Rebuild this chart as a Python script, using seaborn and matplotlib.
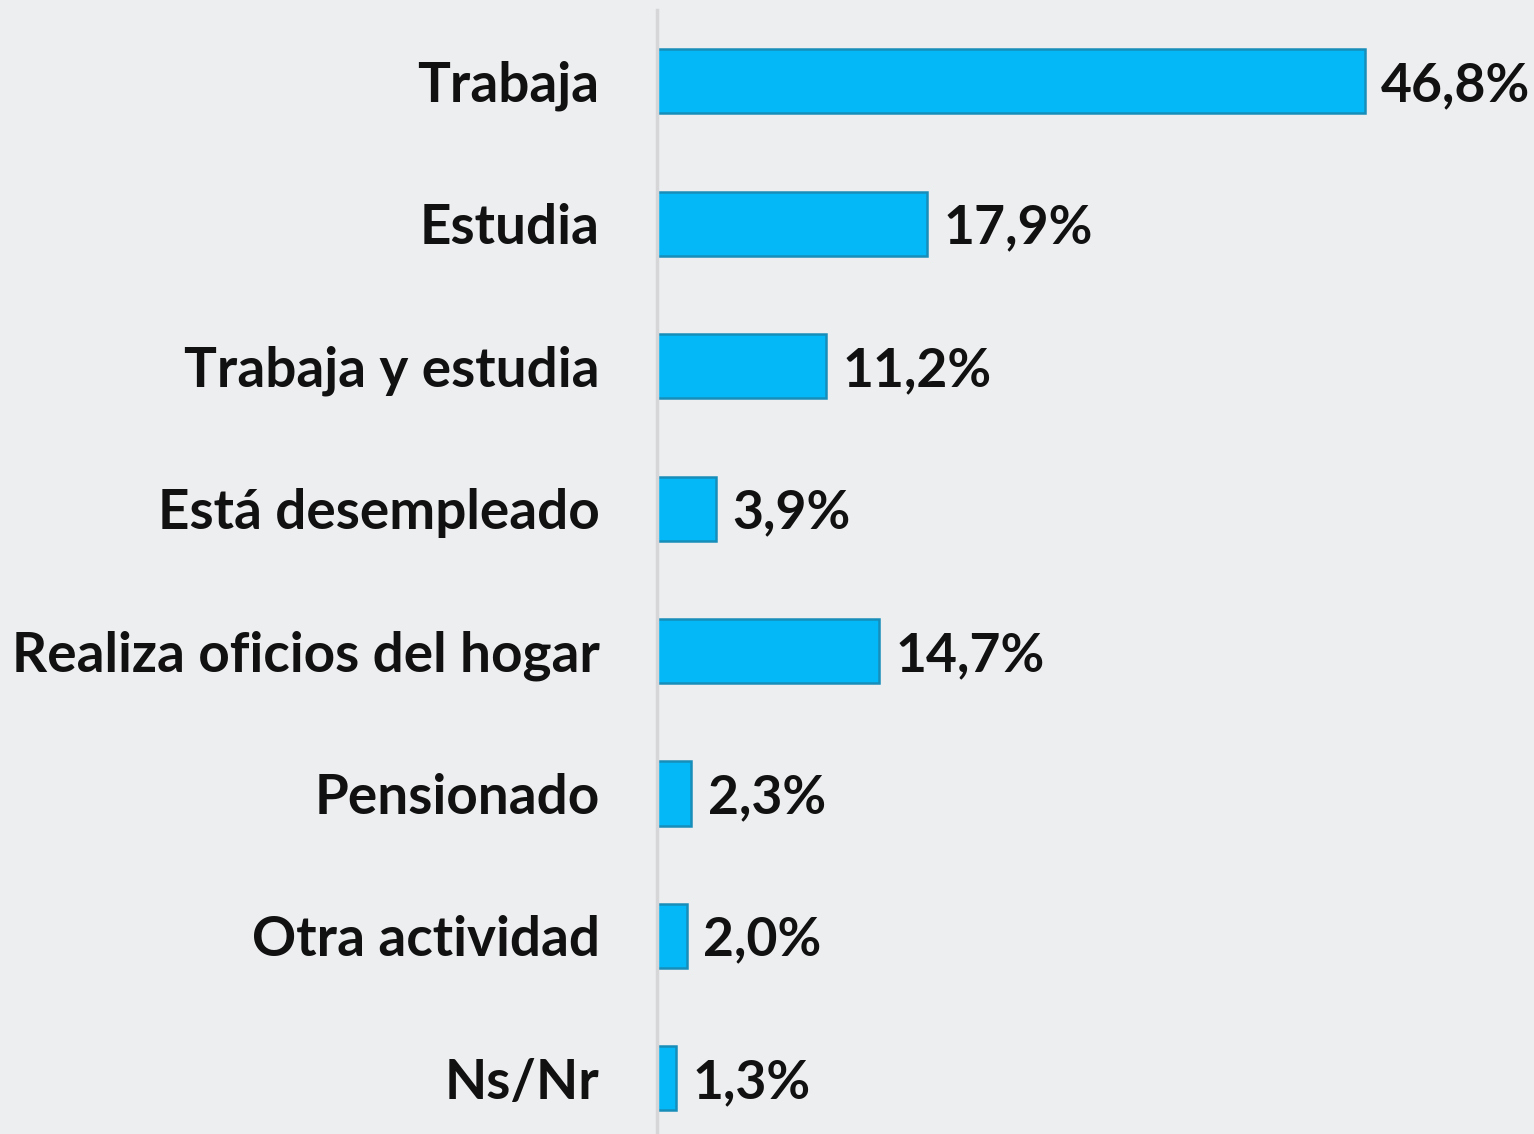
import matplotlib
matplotlib.use("Agg")
import matplotlib.pyplot as plt
import seaborn as sns
import pandas as pd

categories = ["Trabaja", "Estudia", "Trabaja y estudia", "Está desempleado",
              "Realiza oficios del hogar", "Pensionado", "Otra actividad", "Ns/Nr"]
values = [46.8, 17.9, 11.2, 3.9, 14.7, 2.3, 2.0, 1.3]
value_labels = ["46,8%", "17,9%", "11,2%", "3,9%", "14,7%", "2,3%", "2,0%", "1,3%"]

df = pd.DataFrame({"actividad": categories, "pct": values})

sns.set_theme(style="white")
plt.rcParams['font.family'] = ['Lato', 'DejaVu Sans']

bg = "#EDEEF0"
fig = plt.figure(figsize=(15.34, 11.34), dpi=100, facecolor=bg)
ax = fig.add_axes([0.428, 0.0, 0.572, 1 - 10 / 1134])
ax.set_facecolor(bg)

sns.barplot(data=df, x="pct", y="actividad", orient="h", color="#04B8F8",
            saturation=1, width=0.45, edgecolor="#178DBA", linewidth=1.8, ax=ax)

# etiquetas de valor a la derecha de cada barra
for i, (v, lab) in enumerate(zip(values, value_labels)):
    ax.text(v + 1.1, i + 0.03, lab, va="center", ha="left", fontsize=38.5,
            fontweight="bold", color="#111111")

ax.set_xlim(0, 58)
ax.set_ylim(7.39, -0.5)
ax.set_xlabel("")
ax.set_ylabel("")
ax.set_xticks([])
ax.tick_params(axis="y", length=0, pad=41, labelsize=39.5)
for t in ax.get_yticklabels():
    t.set_fontweight("bold")
    t.set_color("#111111")

for s in ["top", "right", "bottom"]:
    ax.spines[s].set_visible(False)
ax.spines["left"].set_color("#D6D6D8")
ax.spines["left"].set_linewidth(2.5)

fig.savefig("out.png", dpi=100, facecolor=bg)
